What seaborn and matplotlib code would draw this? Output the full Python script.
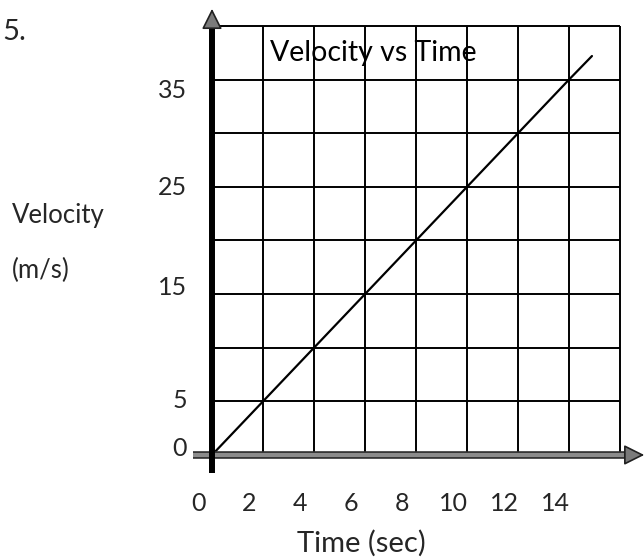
import numpy as np
import pandas as pd
import seaborn as sns
import matplotlib.pyplot as plt
from matplotlib.transforms import ScaledTranslation

# values
time_sec = [0, 2, 4, 6, 8, 10, 12, 14, 14.9]
velocity = [0, 5, 10, 15, 20, 25, 30, 35, 37.2]
x_ticks = [0, 2, 4, 6, 8, 10, 12, 14]
y_ticks = [0, 5, 15, 25, 35]
x_grid = [0, 2, 4, 6, 8, 10, 12, 14, 16]
y_grid = [0, 5, 10, 15, 20, 25, 30, 35, 40]

sns.set_theme(style="white")
plt.rcParams['font.family'] = ['Lato', 'DejaVu Sans']

fig = plt.figure(figsize=(6.44, 5.58), dpi=100)
# axes box reaches below the zero line so the x numbers sit low, as on the worksheet
ax = fig.add_axes([212 / 644, 76 / 558, 408 / 644, 456 / 558])

df = pd.DataFrame({"time": time_sec, "velocity": velocity})
sns.lineplot(data=df, x="time", y="velocity", color="black", lw=1.6, ax=ax, zorder=4)

ax.set_xlim(x_grid[0], x_grid[-1])
ax.set_ylim(-2.52, y_grid[-1])

# graph paper cells
ax.vlines(x_grid, y_grid[0], y_grid[-1], color="black", lw=1.4, clip_on=False, zorder=2)
ax.hlines(y_grid, x_grid[0], x_grid[-1], color="black", lw=1.4, clip_on=False, zorder=2)

ax.set_xticks(x_ticks)
ax.set_xticklabels([str(t) for t in x_ticks])
ax.set_yticks(y_ticks)
ax.set_yticklabels([str(t) for t in y_ticks])
ax.grid(False)
ax.set_xlabel("")
ax.set_ylabel("")
for s in ["top", "right", "left", "bottom"]:
    ax.spines[s].set_visible(False)

# hand-drawn style axes with arrows
ax.plot([-0.75, 16.45], [0, 0], color="#303030", lw=5.5, clip_on=False, solid_capstyle="butt", zorder=5)
ax.plot([-0.75, 16.45], [0, 0], color="#8c8c8c", lw=3.0, clip_on=False, solid_capstyle="butt", zorder=6)
ax.plot([0, 0], [-1.7, 40.3], color="black", lw=4.3, clip_on=False, solid_capstyle="butt", zorder=7)
ax.annotate("", xy=(16.95, 0), xytext=(16.4, 0), annotation_clip=False, zorder=8,
            arrowprops=dict(arrowstyle="-|>,head_length=0.9,head_width=0.45", mutation_scale=14,
                            lw=1.2, ec="#202020", fc="#7a7a7a", shrinkA=0, shrinkB=0))
ax.annotate("", xy=(0, 41.6), xytext=(0, 40.0), annotation_clip=False, zorder=8,
            arrowprops=dict(arrowstyle="-|>,head_length=0.9,head_width=0.45", mutation_scale=14,
                            lw=1.2, ec="#202020", fc="#7a7a7a", shrinkA=0, shrinkB=0))

ax.text(0.142, (0.937 * 429 + 27) / 456, "Velocity vs Time", transform=ax.transAxes, fontsize=20.5,
        ha="left", va="center", color="black", zorder=9)

fig.text(2 / 644, 1 - 32 / 558, "5.", fontsize=21, ha="left", va="center")
fig.text(12 / 644, 1 - 215 / 558, "Velocity", fontsize=18.5, ha="left", va="center")
fig.text(12 / 644, 1 - 270 / 558, "(m/s)", fontsize=18.5, ha="left", va="center")
fig.text(361 / 644, 1 - 543 / 558, "Time (sec)", fontsize=21, ha="center", va="center")

ax.tick_params(which="both", length=0)
ax.tick_params(axis="x", labelsize=18, pad=7)
ax.tick_params(axis="y", labelsize=18, pad=18)
# numbers are written a bit left of their grid lines
for lab in ax.get_xticklabels():
    lab.set_transform(lab.get_transform() + ScaledTranslation(-0.14, 0, fig.dpi_scale_trans))
# the hand-placed y labels sit a little off their lines
y_shift = [0.08, 0.03, 0.09, 0.01, -0.09]
for lab, dy in zip(ax.get_yticklabels(), y_shift):
    lab.set_transform(lab.get_transform() + ScaledTranslation(0, dy, fig.dpi_scale_trans))

fig.savefig("out.png", dpi=100)
